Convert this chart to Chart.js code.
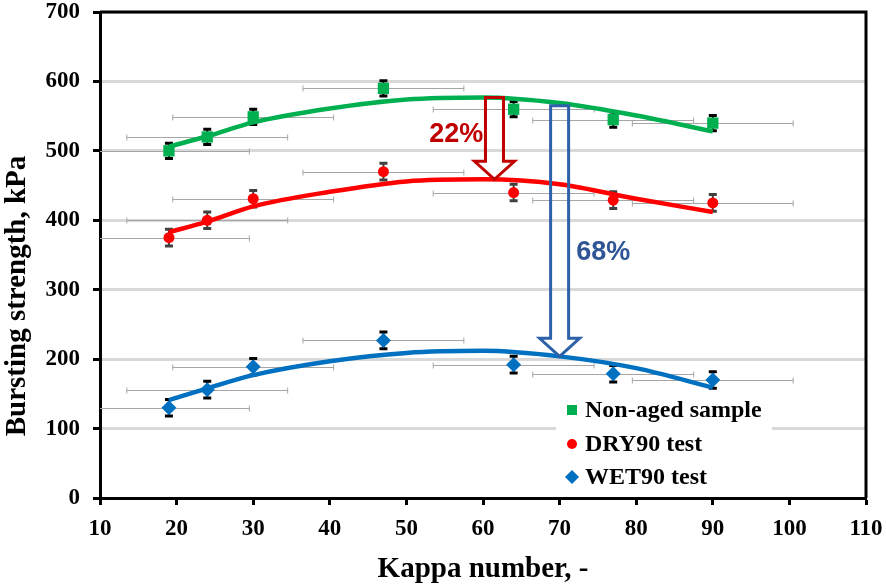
<!DOCTYPE html>
<html>
<head>
<meta charset="utf-8">
<script src="https://cdn.jsdelivr.net/npm/chart.js@4.4.1/dist/chart.umd.min.js"></script>
<style>
  html, body { margin: 0; padding: 0; background: #fff; }
  #wrap { width: 886px; height: 587px; }
</style>
</head>
<body>
<div id="wrap"><canvas id="burst" width="886" height="587"></canvas></div>
<script>
// measured points
const kappa = [19, 24, 30, 47, 64, 77, 90];
const nonAged = [500, 520, 549, 590, 560, 545, 540];
const dry90 = [375, 400, 431, 470, 440, 429, 425];
const wet90 = [130, 156, 189, 227, 192, 179, 170];

// error bars
const kappaErr = [10.5, 10.5, 10.5, 10.5, 10.5, 10.5, 10.5];
const nonAgedErr = [11, 11, 11, 11, 11, 11, 11];
const dry90Err = [12, 12, 12, 12, 12, 12, 12];
const wet90Err = [12, 12, 12, 12, 12, 12, 12];

// trend lines
const trendKappa = [19, 24, 30, 40, 50, 60, 70, 80, 90];
const trendNonAged = [506, 521, 541, 561, 574, 577, 569, 551, 528];
const trendDry90 = [383, 398, 420, 441, 456, 459, 452, 431, 412];
const trendWet90 = [141, 158, 177, 197, 209, 212, 204, 187, 159];

const xTicks = [10, 20, 30, 40, 50, 60, 70, 80, 90, 100, 110];
const yTicks = [0, 100, 200, 300, 400, 500, 600, 700];

const GREEN = '#00b050', RED = '#ff0000', BLUE = '#0070c0';

function pts(xs, ys) {
    return xs.map((x, i) => ({ x: x, y: ys[i] }));
}

const series = [
    { label: 'Non-aged sample', data: nonAged, err: nonAgedErr, color: GREEN, style: 'rect', r: 8, capColor: '#000' },
    { label: 'DRY90 test', data: dry90, err: dry90Err, color: RED, style: 'circle', r: 5.5, capColor: '#404040' },
    { label: 'WET90 test', data: wet90, err: wet90Err, color: BLUE, style: 'rectRot', r: 7.5, capColor: '#000' }
];

const arrows = [
    { x: 61.5, from: 577, to: 459, color: '#c00000' },
    { x: 70, from: 565, to: 204, color: '#2e62a8' }
];
const notes = [
    { text: '22%', x: 56.5, y: 524, color: '#c00000' },
    { text: '68%', x: 75.7, y: 353, color: '#2f5597' }
];

const serif = 'Liberation Serif, Times New Roman, serif';

const overlay = {
    id: 'overlay',
    beforeDatasetsDraw(chart) {
        const ctx = chart.ctx, xs = chart.scales.x, ys = chart.scales.y;
        ctx.save();
        // horizontal error bars
        ctx.strokeStyle = '#a6a6a6';
        ctx.lineWidth = 1;
        series.forEach(s => {
            kappa.forEach((k, i) => {
                const y = Math.round(ys.getPixelForValue(s.data[i])) + 0.5;
                const x1 = Math.max(xs.getPixelForValue(k - kappaErr[i]), chart.chartArea.left);
                const x2 = xs.getPixelForValue(k + kappaErr[i]);
                ctx.beginPath();
                ctx.moveTo(x1, y); ctx.lineTo(x2, y);
                if (k - kappaErr[i] >= xs.min) { ctx.moveTo(x1, y - 3); ctx.lineTo(x1, y + 3); }
                ctx.moveTo(x2, y - 3); ctx.lineTo(x2, y + 3);
                ctx.stroke();
            });
        });
        // vertical error bars
        series.forEach(s => {
            ctx.strokeStyle = s.capColor;
            kappa.forEach((k, i) => {
                const x = xs.getPixelForValue(k);
                const y1 = ys.getPixelForValue(s.data[i] + s.err[i]);
                const y2 = ys.getPixelForValue(s.data[i] - s.err[i]);
                ctx.lineWidth = 2;
                ctx.beginPath();
                ctx.moveTo(x, y1); ctx.lineTo(x, y2);
                ctx.stroke();
                ctx.lineWidth = 3;
                ctx.beginPath();
                ctx.moveTo(x - 4, y1); ctx.lineTo(x + 4, y1);
                ctx.moveTo(x - 4, y2); ctx.lineTo(x + 4, y2);
                ctx.stroke();
            });
        });
        ctx.restore();
    },
    afterDatasetsDraw(chart) {
        const ctx = chart.ctx, xs = chart.scales.x, ys = chart.scales.y, a = chart.chartArea;
        ctx.save();
        // arrows
        arrows.forEach(ar => {
            const cx = xs.getPixelForValue(ar.x);
            const yt = ys.getPixelForValue(ar.from);
            const yb = ys.getPixelForValue(ar.to);
            const sw = 9, hw = 20, hl = 18;
            ctx.beginPath();
            ctx.moveTo(cx - sw, yt);
            ctx.lineTo(cx + sw, yt);
            ctx.lineTo(cx + sw, yb - hl);
            ctx.lineTo(cx + hw, yb - hl);
            ctx.lineTo(cx, yb);
            ctx.lineTo(cx - hw, yb - hl);
            ctx.lineTo(cx - sw, yb - hl);
            ctx.closePath();
            ctx.strokeStyle = ar.color;
            ctx.lineWidth = 3;
            ctx.lineJoin = 'miter';
            ctx.stroke();
        });
        ctx.font = 'bold 27px Liberation Sans, Arial, sans-serif';
        ctx.textAlign = 'center';
        ctx.textBaseline = 'middle';
        notes.forEach(n => {
            ctx.fillStyle = n.color;
            ctx.fillText(n.text, xs.getPixelForValue(n.x), ys.getPixelForValue(n.y));
        });

        // legend
        ctx.fillStyle = '#fff';
        ctx.fillRect(556, 394, 216, 100);
        ctx.font = 'bold 24px ' + serif;
        ctx.textAlign = 'left';
        ctx.textBaseline = 'middle';
        const rows = [410, 444, 477];
        series.forEach((s, i) => {
            const mx = 572, my = rows[i];
            ctx.fillStyle = s.color;
            ctx.beginPath();
            if (s.style === 'rect') ctx.rect(mx - 5, my - 5, 10, 10);
            else if (s.style === 'circle') ctx.arc(mx, my, 5, 0, Math.PI * 2);
            else { ctx.moveTo(mx, my - 7); ctx.lineTo(mx + 7, my); ctx.lineTo(mx, my + 7); ctx.lineTo(mx - 7, my); ctx.closePath(); }
            ctx.fill();
            ctx.fillStyle = '#000';
            ctx.fillText(s.label, 585, my + 1);
        });

        // frame
        ctx.strokeStyle = '#000';
        ctx.lineWidth = 3;
        ctx.beginPath();
        ctx.moveTo(a.left, a.top);
        ctx.lineTo(a.right, a.top);
        ctx.lineTo(a.right, a.bottom);
        ctx.stroke();

        // y title
        ctx.translate(18, 296);
        ctx.rotate(-Math.PI / 2);
        ctx.fillStyle = '#000';
        ctx.font = 'bold 29px ' + serif;
        ctx.textAlign = 'center';
        ctx.textBaseline = 'middle';
        ctx.fillText('Bursting strength, kPa', 0, 0);
        ctx.restore();
    }
};

const datasets = [];
series.forEach(s => {
    datasets.push({
        type: 'scatter',
        label: s.label,
        data: pts(kappa, s.data),
        pointStyle: s.style,
        pointRadius: s.r,
        pointHoverRadius: s.r,
        pointBackgroundColor: s.color,
        pointBorderColor: s.color,
        pointBorderWidth: 0
    });
});
[[trendNonAged, GREEN], [trendDry90, RED], [trendWet90, BLUE]].forEach(t => {
    datasets.push({
        type: 'line',
        label: '',
        data: pts(trendKappa, t[0]),
        borderColor: t[1],
        borderWidth: 4.5,
        pointRadius: 0,
        tension: 0.4,
        cubicInterpolationMode: 'monotone',
        fill: false
    });
});

new Chart(document.getElementById('burst'), {
    type: 'scatter',
    data: { datasets: datasets },
    plugins: [overlay],
    options: {
        responsive: false,
        animation: false,
        layout: { padding: { left: 0, top: 12, right: 20, bottom: 0 } },
        plugins: { legend: { display: false }, tooltip: { enabled: false } },
        scales: {
            x: {
                type: 'linear',
                min: 10,
                max: 110,
                afterBuildTicks: sc => { sc.ticks = xTicks.map(v => ({ value: v })); },
                afterFit: sc => { sc.height = 89; sc.paddingLeft = 0; sc.paddingRight = 0; },
                grid: { drawOnChartArea: false, tickColor: '#000', tickWidth: 3, tickLength: 7 },
                border: { color: '#000', width: 3 },
                ticks: { color: '#000', padding: 10, font: { family: serif, size: 23, weight: 'bold' } },
                title: {
                    display: true,
                    text: 'Kappa number, -',
                    color: '#000',
                    padding: { top: 0, bottom: 0 },
                    font: { family: serif, size: 29, weight: 'bold' }
                }
            },
            y: {
                type: 'linear',
                min: 0,
                max: 700,
                afterBuildTicks: sc => { sc.ticks = yTicks.map(v => ({ value: v })); },
                afterFit: sc => { sc.width = 100; sc.paddingTop = 0; sc.paddingBottom = 0; },
                grid: { color: '#d9d9d9', lineWidth: 3, tickColor: '#000', tickWidth: 3, tickLength: 7 },
                border: { color: '#000', width: 3 },
                ticks: { color: '#000', padding: 13, font: { family: serif, size: 23, weight: 'bold' } }
            }
        }
    }
});
</script>
</body>
</html>
